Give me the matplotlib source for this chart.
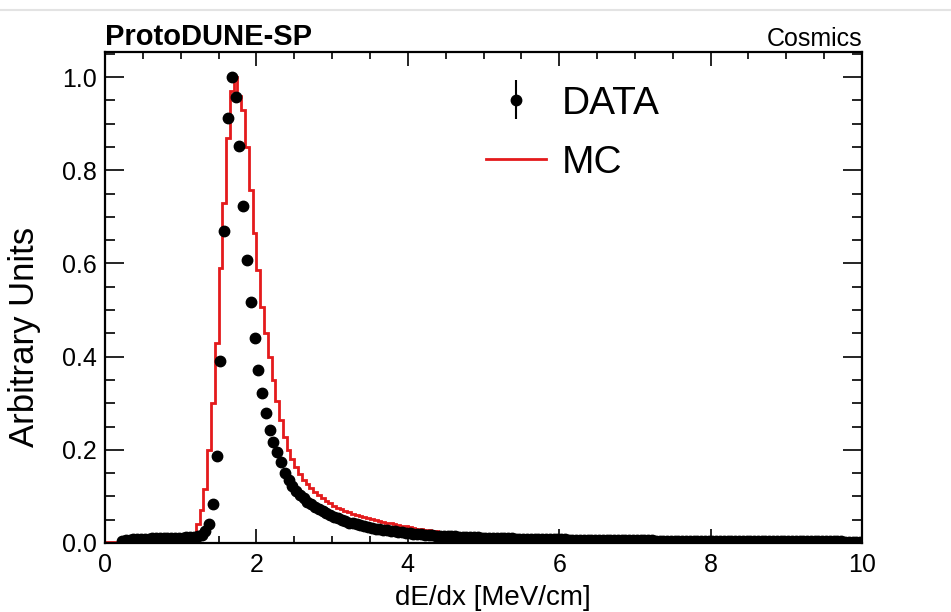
import matplotlib
matplotlib.use("Agg")
import matplotlib.pyplot as plt
from matplotlib.lines import Line2D
from matplotlib.ticker import MultipleLocator
import numpy as np

plt.rcParams['font.family'] = ['Liberation Sans', 'DejaVu Sans']

nan = np.nan

# dE/dx histogram, 200 bins of 0.05 MeV/cm from 0 to 10 (one row = 0.5 MeV/cm)
bin_edges = np.linspace(0, 10, 201)

data_values = [
    nan, nan, nan, nan, 0.004, 0.006, 0.007, 0.008, 0.008, 0.009,
    0.009, 0.009, 0.010, 0.010, 0.010, 0.010, 0.010, 0.011, 0.011, 0.011,
    0.011, 0.012, 0.012, 0.013, 0.014, 0.018, 0.026, 0.041, 0.083, 0.187,
    0.390, 0.670, 0.913, 1.000, 0.957, 0.852, 0.723, 0.607, 0.517, 0.440,
    0.371, 0.321, 0.279, 0.242, 0.217, 0.195, 0.173, 0.151, 0.135, 0.122,
    0.112, 0.103, 0.096, 0.089, 0.083, 0.077, 0.072, 0.068, 0.064, 0.060,
    0.056, 0.053, 0.050, 0.047, 0.044, 0.042, 0.040, 0.038, 0.036, 0.034,
    0.032, 0.030, 0.029, 0.028, 0.027, 0.026, 0.025, 0.024, 0.023, 0.022,
    0.021, 0.020, 0.019, 0.019, 0.018, 0.017, 0.017, 0.016, 0.016, 0.015,
    0.015, 0.014, 0.014, 0.013, 0.013, 0.013, 0.012, 0.012, 0.012, 0.011,
    0.011, 0.011, 0.011, 0.010, 0.010, 0.010, 0.010, 0.010, 0.009, 0.009,
    0.009, 0.009, 0.009, 0.009, 0.008, 0.008, 0.008, 0.008, 0.008, 0.008,
    0.008, 0.008, 0.007, 0.007, 0.007, 0.007, 0.007, 0.007, 0.007, 0.007,
    0.007, 0.007, 0.006, 0.006, 0.006, 0.006, 0.006, 0.006, 0.006, 0.006,
    0.006, 0.006, 0.006, 0.006, 0.006, 0.005, 0.005, 0.005, 0.005, 0.005,
    0.005, 0.005, 0.005, 0.005, 0.005, 0.005, 0.005, 0.005, 0.005, 0.005,
    0.005, 0.005, 0.005, 0.005, 0.005, 0.004, 0.004, 0.004, 0.004, 0.004,
    0.004, 0.004, 0.004, 0.004, 0.004, 0.004, 0.004, 0.004, 0.004, 0.004,
    0.004, 0.004, 0.004, 0.004, 0.004, 0.004, 0.004, 0.004, 0.004, 0.004,
    0.004, 0.004, 0.004, 0.004, 0.004, 0.003, 0.003, 0.003, 0.003, 0.003,
]

mc_values = [
    0.003, 0.003, 0.003, 0.003, 0.003, 0.004, 0.004, 0.004, 0.004, 0.004,
    0.005, 0.005, 0.005, 0.005, 0.005, 0.005, 0.005, 0.006, 0.006, 0.006,
    0.006, 0.007, 0.008, 0.012, 0.040, 0.070, 0.115, 0.200, 0.300, 0.430,
    0.590, 0.730, 0.870, 0.970, 1.000, 0.960, 0.930, 0.850, 0.757, 0.665,
    0.586, 0.507, 0.450, 0.400, 0.350, 0.305, 0.265, 0.228, 0.200, 0.180,
    0.163, 0.148, 0.136, 0.126, 0.117, 0.109, 0.102, 0.096, 0.090, 0.085,
    0.080, 0.076, 0.072, 0.069, 0.066, 0.063, 0.061, 0.058, 0.056, 0.054,
    0.052, 0.050, 0.048, 0.046, 0.044, 0.042, 0.041, 0.039, 0.037, 0.036,
    0.034, 0.033, 0.031, 0.030, 0.028, 0.027, 0.026, 0.025, 0.024, 0.023,
    0.021, 0.020, 0.019, 0.018, 0.017, 0.016, 0.015, 0.014, 0.013, 0.013,
    0.012, 0.012, 0.011, 0.011, 0.011, 0.010, 0.010, 0.010, 0.010, 0.009,
    0.009, 0.009, 0.009, 0.009, 0.008, 0.008, 0.008, 0.008, 0.008, 0.008,
    0.008, 0.008, 0.007, 0.007, 0.007, 0.007, 0.007, 0.007, 0.007, 0.007,
    0.007, 0.007, 0.006, 0.006, 0.006, 0.006, 0.006, 0.006, 0.006, 0.006,
    0.006, 0.006, 0.006, 0.006, 0.006, 0.005, 0.005, 0.005, 0.005, 0.005,
    0.005, 0.005, 0.005, 0.005, 0.005, 0.005, 0.005, 0.005, 0.005, 0.005,
    0.005, 0.005, 0.005, 0.005, 0.005, 0.004, 0.004, 0.004, 0.004, 0.004,
    0.004, 0.004, 0.004, 0.004, 0.004, 0.004, 0.004, 0.004, 0.004, 0.004,
    0.004, 0.004, 0.004, 0.004, 0.004, 0.004, 0.004, 0.004, 0.004, 0.004,
    0.004, 0.004, 0.004, 0.004, 0.004, 0.003, 0.003, 0.003, 0.003, 0.003,
]

bin_centers = 0.5 * (bin_edges[:-1] + bin_edges[1:])

fig = plt.figure(figsize=(9.51, 6.12), dpi=100)
ax = fig.add_axes([105 / 951, 1 - 543 / 612, 757 / 951, 491 / 612])

# MC as step histogram
ax.stairs(mc_values, bin_edges, color='#e41a1c', lw=2, label='MC', zorder=2)

# data points (errors are tiny, hidden under the markers)
data = ax.errorbar(bin_centers, data_values, yerr=0.002, fmt='o', color='black',
                   ms=7.5, elinewidth=1.5, capsize=0, label='DATA', zorder=3)

ax.set_xlim(0, 10)
ax.set_ylim(0, 1.054)
ax.xaxis.set_major_locator(MultipleLocator(2))
ax.xaxis.set_minor_locator(MultipleLocator(0.5))
ax.yaxis.set_major_locator(MultipleLocator(0.2))
ax.yaxis.set_minor_locator(MultipleLocator(0.05))
ax.yaxis.set_major_formatter(plt.FormatStrFormatter('%.1f'))

ax.tick_params(direction='in', which='both', top=True, right=True, labelsize=18, width=1.2)
ax.tick_params(axis='x', which='major', length=10, pad=7)
ax.tick_params(axis='x', which='minor', length=5)
ax.tick_params(axis='y', which='major', length=14, pad=6)
ax.tick_params(axis='y', which='minor', length=7)
for s in ax.spines.values():
    s.set_linewidth(1.6)

ax.set_xlabel('dE/dx [MeV/cm]', fontsize=20, labelpad=1)
ax.xaxis.set_label_coords(0.513, -0.085)
ax.set_ylabel('Arbitrary Units', fontsize=25)
ax.yaxis.set_label_coords(-0.084, 0.42)

ax.text(0, 1.003, 'ProtoDUNE-SP', transform=ax.transAxes, fontsize=21,
        fontweight='bold', ha='left', va='bottom')
ax.text(1, 1.003, 'Cosmics', transform=ax.transAxes, fontsize=18,
        ha='right', va='bottom')

mc_handle = Line2D([], [], color='#e41a1c', lw=2)
ax.legend([data, mc_handle], ['DATA', 'MC'], loc='upper left',
          bbox_to_anchor=(0.457, 1.003), frameon=False, fontsize=28,
          handlelength=1.55, handletextpad=0.4, labelspacing=0.6)

# thin grey page line at top of the screenshot
fig.add_artist(Line2D([0, 1], [1 - 10 / 612] * 2, transform=fig.transFigure,
                      color='#e3e3e3', lw=1.5))

fig.savefig('out.png', dpi=100)
